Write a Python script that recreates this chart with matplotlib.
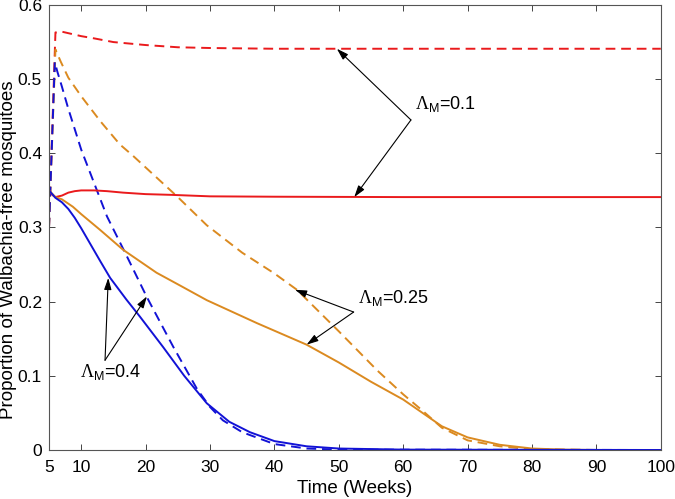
import numpy as np
import matplotlib
matplotlib.use('Agg')
import matplotlib.pyplot as plt

plt.rcParams['font.family'] = ['Liberation Sans', 'DejaVu Sans']
plt.rcParams['mathtext.fontset'] = 'custom'
plt.rcParams['mathtext.rm'] = 'Liberation Serif'
plt.rcParams['mathtext.sf'] = 'Liberation Sans'

# values (time in weeks, proportion)
red_solid_t = [5, 5.5, 6, 7, 8, 9, 10, 12, 14, 16.5, 20, 24, 30, 40, 60, 100]
red_solid_y = [0.350, 0.344, 0.341, 0.343, 0.347, 0.349, 0.350, 0.350, 0.349,
               0.347, 0.345, 0.344, 0.342, 0.3415, 0.341, 0.341]

red_dash_t = [5, 6, 7, 8, 10, 12, 15, 20, 25, 30, 40, 100]
red_dash_y = [0.300, 0.563, 0.564, 0.562, 0.558, 0.555, 0.550, 0.546, 0.543,
              0.542, 0.541, 0.541]

orange_solid_t = [5, 6, 7, 8.7, 10, 12.9, 16.5, 21.7, 25.3, 29.5, 37.3, 45, 50,
                  55, 60, 63, 66, 70, 75, 80, 85, 90, 100]
orange_solid_y = [0.350, 0.341, 0.338, 0.328, 0.318, 0.297, 0.270, 0.239, 0.222,
                  0.202, 0.171, 0.142, 0.118, 0.092, 0.068, 0.050, 0.032, 0.017,
                  0.007, 0.002, 0.0005, 0.0, 0.0]

orange_dash_t = [5, 6, 6.8, 8, 10, 13, 16, 18, 20, 25, 29.5, 35, 40, 43.5, 50,
                 56, 60, 63, 66, 70, 75, 80, 90, 100]
orange_dash_y = [0.300, 0.540, 0.524, 0.502, 0.477, 0.443, 0.412, 0.397, 0.381,
                 0.341, 0.303, 0.266, 0.238, 0.216, 0.160, 0.107, 0.075, 0.053,
                 0.030, 0.013, 0.005, 0.001, 0.0, 0.0]

blue_solid_t = [5, 6, 7, 8, 9, 10, 11.4, 13, 14.5, 17, 19.1, 22.7, 26, 29.5, 33,
                36.2, 40, 45, 50, 60, 100]
blue_solid_y = [0.350, 0.340, 0.334, 0.325, 0.313, 0.299, 0.278, 0.254, 0.232,
                0.203, 0.180, 0.139, 0.100, 0.063, 0.038, 0.024, 0.012, 0.005,
                0.002, 0.0005, 0.0]

blue_dash_t = [5, 5.9, 6.3, 7, 8, 10, 12, 14, 17.1, 20.2, 24.3, 28, 30, 32, 35,
               40, 45, 50, 100]
blue_dash_y = [0.300, 0.523, 0.510, 0.490, 0.460, 0.405, 0.360, 0.315, 0.261,
               0.206, 0.139, 0.082, 0.058, 0.040, 0.024, 0.008, 0.002, 0.0005, 0.0]

x_ticks = [5, 10, 20, 30, 40, 50, 60, 70, 80, 90, 100]
y_ticks = [0, 0.1, 0.2, 0.3, 0.4, 0.5, 0.6]
y_tick_labels = ['0', '0.1', '0.2', '0.3', '0.4', '0.5', '0.6']

RED = '#ea1a1c'
ORANGE = '#db8a20'
BLUE = '#1212d6'
dash = (0, (5.0, 3.0))

fig = plt.figure(figsize=(6.75, 4.99), dpi=100)
ax = fig.add_axes([0.0726, 0.0982, 0.9064, 0.8918])

lw = 1.4
ax.plot(red_dash_t, red_dash_y, color=RED, lw=lw, ls=dash)
ax.plot(orange_dash_t, orange_dash_y, color=ORANGE, lw=lw, ls=dash)
ax.plot(blue_dash_t, blue_dash_y, color=BLUE, lw=lw, ls=dash)
ax.plot(red_solid_t, red_solid_y, color=RED, lw=lw)
ax.plot(orange_solid_t, orange_solid_y, color=ORANGE, lw=lw)
ax.plot(blue_solid_t, blue_solid_y, color=BLUE, lw=lw)

ax.set_xlim(5, 100)
ax.set_ylim(0, 0.6)
ax.set_xticks(x_ticks)
ax.set_yticks(y_ticks)
ax.set_yticklabels(y_tick_labels)
ax.tick_params(direction='in', top=True, right=True, length=4.5, width=0.7,
               color='#444444', labelsize=12.5)
ax.tick_params(axis='x', pad=7)
ax.tick_params(axis='y', pad=5)
for s in ax.spines.values():
    s.set_color('#555555')
    s.set_linewidth(0.8)

ax.set_xlabel('Time (Weeks)', fontsize=13.5)
ax.set_ylabel('Proportion of Walbachia-free mosquitoes', fontsize=13.5)
ax.xaxis.set_label_coords(0.5, -0.068)
ax.yaxis.set_label_coords(-0.053, 0.45)

# annotations: (label, text position, arrow origin, arrow tips)
notes = [
    (r'$\Lambda_{\mathsf{M}}$=0.1', (61.8, 0.466), (61.2, 0.445),
     [(49.7, 0.541), (52.4, 0.341)]),
    (r'$\Lambda_{\mathsf{M}}$=0.25', (53.0, 0.205), (52.3, 0.186),
     [(43.2, 0.216), (45.0, 0.142)]),
    (r'$\Lambda_{\mathsf{M}}$=0.4', (9.8, 0.105), (13.7, 0.121),
     [(14.2, 0.232), (20.2, 0.207)]),
]
for label, tpos, origin, tips in notes:
    ax.text(tpos[0], tpos[1], label, fontsize=13, va='center', ha='left')
    for tip in tips:
        ax.annotate('', xy=tip, xytext=origin,
                    arrowprops=dict(arrowstyle='-|>,head_length=0.7,head_width=0.22',
                                    color='black', lw=0.8,
                                    shrinkA=0, shrinkB=0))

fig.savefig('out.png', dpi=100)
